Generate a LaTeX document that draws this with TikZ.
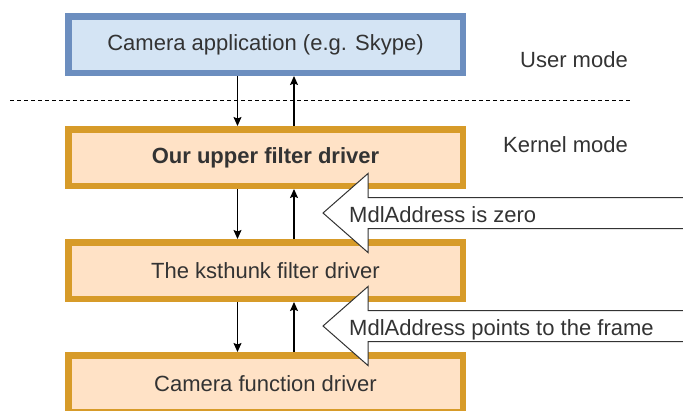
\documentclass[tikz,border=0pt]{standalone}
\usepackage{fontspec}
\setmainfont{Liberation Sans}
\usetikzlibrary{positioning,arrows.meta}
\definecolor{appfill}{HTML}{D4E4F4}
\definecolor{appline}{HTML}{6C8EBF}
\definecolor{drvfill}{HTML}{FFE2C6}
\definecolor{drvline}{HTML}{D79B29}
\definecolor{txtgray}{HTML}{333333}

\begin{document}
\begin{tikzpicture}
    [x=1pt, y=-1pt,
    every node/.style={font=\fontsize{22}{26}\selectfont, text=txtgray},
    layer/.style={rectangle, line width=6.5pt, minimum width=394.5pt,
      minimum height=56.5pt, inner sep=0pt},
    appbox/.style={layer, draw=appline, fill=appfill},
    drvbox/.style={layer, draw=drvline, fill=drvfill},
    call/.style={-{Stealth[length=9pt,width=8pt,inset=1.5pt]}, line width=1.2pt, black},
    bigarrow/.style={draw=txtgray, fill=white, line width=1pt, line join=miter},
    node distance=50pt]
    \useasboundingbox (0,0) rectangle (683,410);

    % the driver stack
    \node[appbox] (app) at (265.5,44.5) {Camera application (e.g. Skype)};
    \node[drvbox, below=of app] (upper) {\textbf{Our upper filter driver}};
    \node[drvbox, below=of upper] (ksthunk) {The ksthunk filter driver};
    \node[drvbox, below=of ksthunk] (camdrv) {Camera function driver};

    \foreach \a/\b in {app/upper, upper/ksthunk, ksthunk/camdrv} {
      \draw[call] ([xshift=-28pt]\a.south) -- ([xshift=-28pt]\b.north);
      \draw[call] ([xshift=28.5pt]\b.north) -- ([xshift=28.5pt]\a.south);
    }

    % user / kernel split
    \coordinate (sepL) at (10,100);
    \coordinate (sepR) at (632,100);
    \draw[line width=1pt, dash pattern=on 4pt off 3pt] (sepL) -- (sepR);
    \node (user) at (574,60) {User mode};
    \node (kernel) at (565.5,145) {Kernel mode};

    % the MdlAddress arrows
    \coordinate (tipA) at (323,213);
    \coordinate (tipB) at (323,326);
    \foreach \t in {tipA, tipB}
      \draw[bigarrow] (\t) -- ++(45,-39.5) -- ++(0,24) -- ++(330,0)
        -- ++(0,31) -- ++(-330,0) -- ++(0,24) -- cycle;
    \node[anchor=base west, inner sep=0pt] (zero) at (349,222) {MdlAddress is zero};
    \node[anchor=base west, inner sep=0pt] (frame) at (349,335) {MdlAddress points to the frame};
\end{tikzpicture}
\end{document}
